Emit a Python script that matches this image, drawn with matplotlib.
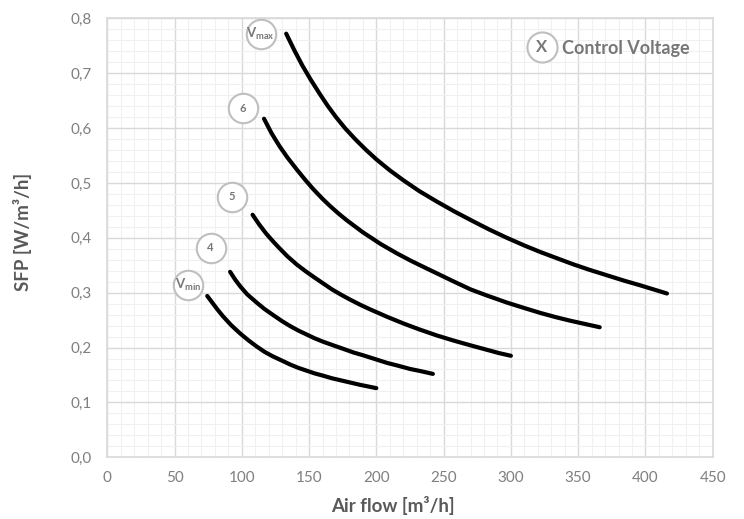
import matplotlib
matplotlib.use('Agg')
import matplotlib.pyplot as plt
from matplotlib.ticker import MultipleLocator, FuncFormatter

# curves: air flow [m3/h] vs SFP [W/m3/h]
vmax_x = [133, 139, 145, 151, 158, 164, 170, 177, 185, 192, 200, 210, 220, 232, 245,
          258, 272, 284, 297, 310, 322, 334, 346, 358, 371, 384, 396, 406, 416]
vmax_y = [0.772, 0.742, 0.714, 0.689, 0.662, 0.640, 0.620, 0.599, 0.578, 0.561, 0.543,
          0.523, 0.505, 0.485, 0.466, 0.448, 0.430, 0.415, 0.400, 0.386, 0.374, 0.363,
          0.352, 0.342, 0.332, 0.322, 0.3135, 0.306, 0.2985]

v6_x = [116.5, 122, 128, 134, 141, 147, 153, 160, 166, 172, 178, 190, 203, 215, 225,
        235, 246, 257, 270, 282, 297, 310, 322, 334, 344, 355, 366]
v6_y = [0.617, 0.591, 0.567, 0.546, 0.524, 0.506, 0.489, 0.471, 0.457, 0.444, 0.432,
        0.410, 0.389, 0.372, 0.359, 0.347, 0.334, 0.321, 0.306, 0.295, 0.282, 0.272,
        0.263, 0.255, 0.249, 0.243, 0.237]

v5_x = [108, 113, 118, 123, 128, 134, 141, 148, 155, 161, 167, 174, 180, 188, 195, 208,
        220, 232, 245, 257, 270, 282, 291, 300]
v5_y = [0.442, 0.424, 0.408, 0.394, 0.381, 0.366, 0.351, 0.338, 0.326, 0.316, 0.306,
        0.296, 0.288, 0.278, 0.270, 0.256, 0.244, 0.233, 0.222, 0.213, 0.204, 0.196,
        0.190, 0.185]

v4_x = [91.3, 95, 99, 104, 111, 117, 124, 130, 136, 142, 148, 154, 160, 168, 175, 183,
        190, 199, 208, 216, 225, 233, 242]
v4_y = [0.338, 0.324, 0.311, 0.297, 0.282, 0.270, 0.258, 0.248, 0.239, 0.231, 0.224,
        0.217, 0.211, 0.204, 0.198, 0.191, 0.186, 0.179, 0.172, 0.167, 0.161, 0.157,
        0.152]

vmin_x = [74.3, 78, 82, 86, 92, 98.6, 105, 111, 117, 123, 130, 136, 142, 148, 154, 160,
          167, 174, 181, 188, 194, 200]
vmin_y = [0.294, 0.282, 0.269, 0.257, 0.241, 0.226, 0.213, 0.202, 0.192, 0.184, 0.176,
          0.169, 0.163, 0.158, 0.153, 0.149, 0.144, 0.140, 0.136, 0.132, 0.129, 0.126]

curves = [(vmax_x, vmax_y), (v6_x, v6_y), (v5_x, v5_y), (v4_x, v4_y), (vmin_x, vmin_y)]

# voltage labels (circle badges)
badge_text = [r'$\mathrm{V_{max}}$', '6', '5', '4', r'$\mathrm{V_{min}}$']
badge_x = [114, 101, 92.5, 76.8, 60]
badge_y = [0.771, 0.636, 0.475, 0.382, 0.314]

plt.rcParams['font.family'] = ['Lato', 'DejaVu Sans']
plt.rcParams['mathtext.fontset'] = 'custom'
plt.rcParams['mathtext.rm'] = 'Lato:bold'
plt.rcParams['mathtext.it'] = 'Lato:bold'

major_c = '#d9d9d9'
minor_c = '#f0f0f0'
tick_c = '#7f7f7f'
label_c = '#595959'
badge_c = '#bfbfbf'

fig = plt.figure(figsize=(7.44, 5.19), dpi=100)
ax = fig.add_axes([0.1442, 0.1189, 0.8137, 0.8458])

for x, y in curves:
    ax.plot(x, y, color='black', lw=3.0, solid_capstyle='round',
            solid_joinstyle='round', zorder=3)

ax.scatter(badge_x, badge_y, s=450, facecolor='white', edgecolor=badge_c, lw=1.5, zorder=4)
for t, x, y in zip(badge_text, badge_x, badge_y):
    fs = 9.5 if len(t) > 2 else 8
    ax.text(x, y, t, ha='center', va='center', fontsize=fs, color='#777777',
            fontweight='bold', zorder=5)

# legend badge
ax.scatter([0.718], [0.935], s=470, facecolor='white', edgecolor=badge_c, lw=1.5,
           transform=ax.transAxes, zorder=4, clip_on=False)
ax.text(0.718, 0.935, 'X', transform=ax.transAxes, ha='center', va='center',
        fontsize=12, fontweight='bold', color='#777777', zorder=5)
ax.text(0.9625, 0.932, 'Control Voltage', transform=ax.transAxes, ha='right', va='center',
        fontsize=13, fontweight='bold', color='#777777', zorder=5)

ax.set_xlim(0, 450)
ax.set_ylim(0, 0.8)
ax.xaxis.set_major_locator(MultipleLocator(50))
ax.xaxis.set_minor_locator(MultipleLocator(10))
ax.yaxis.set_major_locator(MultipleLocator(0.1))
ax.yaxis.set_minor_locator(MultipleLocator(0.02))
ax.yaxis.set_major_formatter(FuncFormatter(lambda v, p: ('%.1f' % v).replace('.', ',')))

ax.grid(which='major', color=major_c, lw=1.0, zorder=1)
ax.grid(which='minor', color=minor_c, lw=0.8, zorder=0)
ax.set_axisbelow(True)
for s in ax.spines.values():
    s.set_color(major_c)
    s.set_linewidth(1.2)

ax.tick_params(which='both', length=0)
ax.tick_params(axis='x', labelsize=11, labelcolor=tick_c, pad=10)
ax.tick_params(axis='y', labelsize=11, labelcolor=tick_c, pad=11)

ax.set_xlabel('Air flow [m³/h]', fontsize=13.5, fontweight='bold', color=label_c)
ax.set_ylabel('SFP [W/m³/h]', fontsize=13.5, fontweight='bold', color=label_c)
ax.xaxis.set_label_coords(0.471, -0.088)
ax.yaxis.set_label_coords(-0.125, 0.513)

fig.savefig('out.png', dpi=100)
